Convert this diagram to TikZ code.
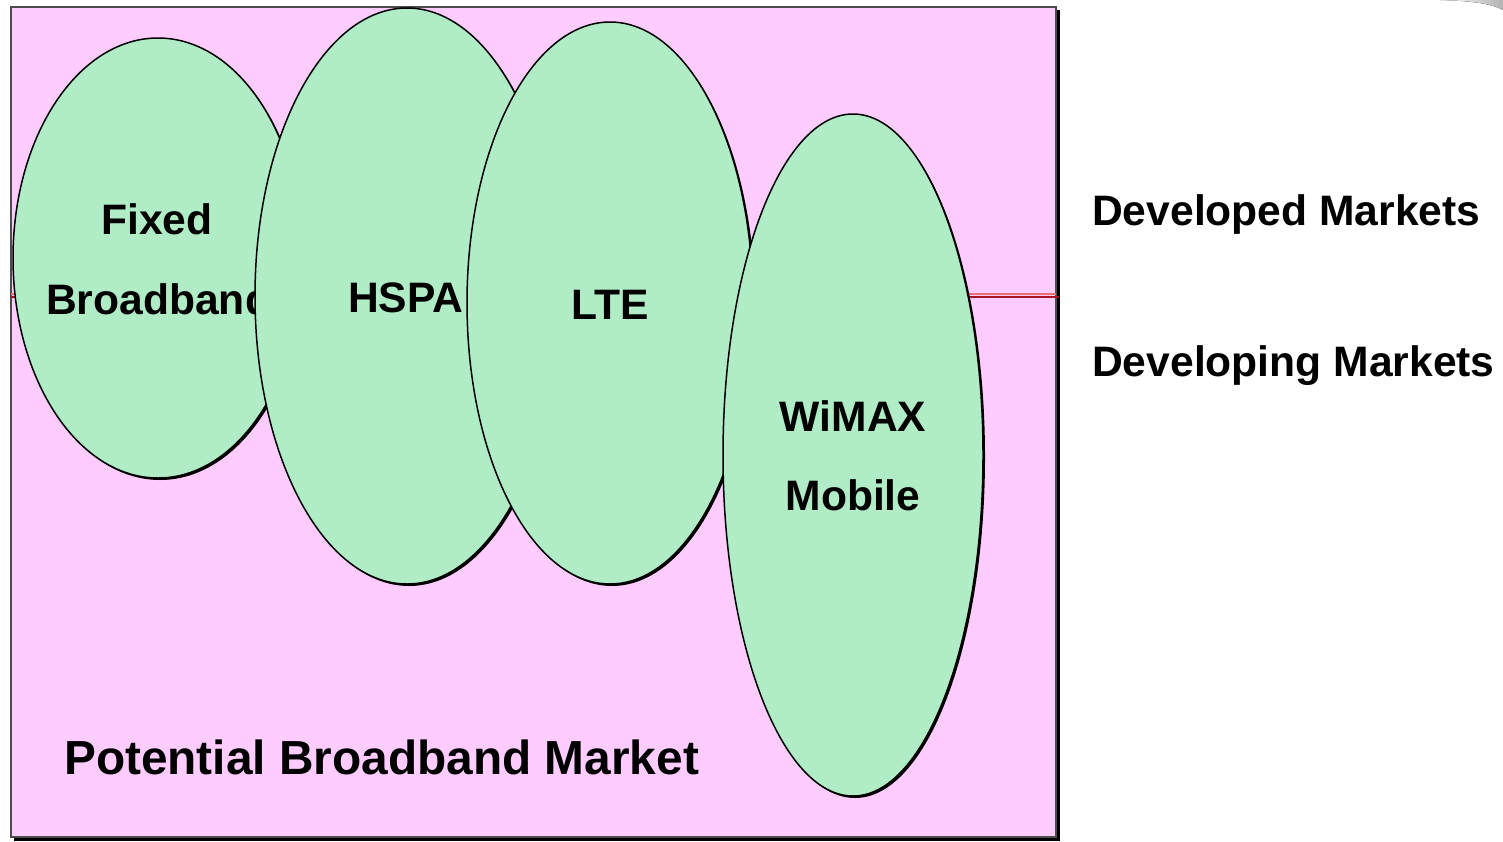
\documentclass[tikz,border=0pt]{standalone}
\usepackage{fontspec}
\setmainfont{Liberation Sans}
\definecolor{pinkbg}{RGB}{255,204,255}
\definecolor{mintgr}{RGB}{176,236,198}
\definecolor{lred}{RGB}{230,110,120}
\definecolor{dred}{RGB}{170,20,30}
\tikzset{
  oval/.style={fill=mintgr, draw=black, line width=1.5pt},
  ovalshadow/.style={fill=black},
  lbl/.style={inner sep=0pt, font=\fontsize{42.6}{50}\selectfont\bfseries},
}
\begin{document}
\begin{tikzpicture}[x=1pt,y=-1pt]
\useasboundingbox (0,0) rectangle (1503,841);
% grey swoosh top right
\fill[left color=white, right color=gray!60] (1440,0) .. controls (1475,1) and (1492,4) .. (1503,10) -- (1503,0) -- cycle;
% main box with shadow
\fill[black] (14,10) rectangle (1060,841);
\draw[fill=pinkbg, draw=black!70, line width=1.5pt] (11,7) rectangle (1056,837);
% red divider line
\draw[lred, line width=2pt] (11,293.5) -- (1056,293.5);
\draw[dred, line width=2.4pt] (11,296.8) -- (1059,296.8);
% Fixed broadband
\fill[ovalshadow] (160,260) ellipse [x radius=145, y radius=220];
\draw[oval] (158,258) ellipse [x radius=145, y radius=220];
\node[lbl, anchor=base] (fixed) at (157,234) {Fixed};
\node[lbl, anchor=base west] (broad) at (46,314) {Broadband};
% HSPA
\fill[ovalshadow] (409,298) ellipse [x radius=152, y radius=288];
\draw[oval] (407,296) ellipse [x radius=152, y radius=288];
\node[lbl, anchor=base west] (hspa) at (348,312) {HSPA};
% LTE
\fill[ovalshadow] (612,305) ellipse [x radius=143, y radius=281];
\draw[oval] (610,303) ellipse [x radius=143, y radius=281];
\node[lbl, anchor=base west] (lte) at (571,319) {LTE};
% WiMAX
\fill[ovalshadow] (855,457) ellipse [x radius=130, y radius=341];
\draw[oval] (853,455) ellipse [x radius=130, y radius=341];
\node[lbl, anchor=base] (wimax) at (853,431) {WiMAX};
\node[lbl, anchor=base] (mobile) at (853,510) {Mobile};
% bottom label
\node[inner sep=0pt, font=\fontsize{47.8}{56}\selectfont\bfseries, anchor=base west] (pbm) at (64,774) {Potential Broadband Market};
% right labels
\node[lbl, anchor=base west] (dev1) at (1092,225) {Developed Markets};
\node[lbl, anchor=base west] (dev2) at (1092,376) {Developing Markets};
\end{tikzpicture}
\end{document}
